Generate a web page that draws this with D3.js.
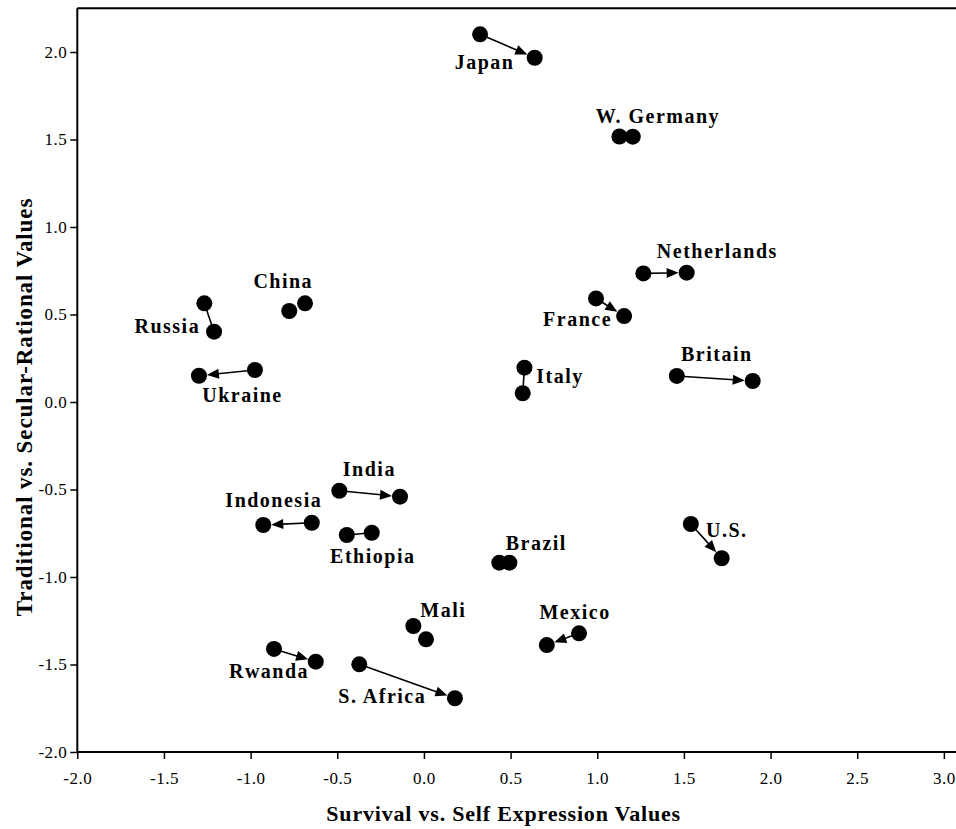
<!DOCTYPE html>
<html>
<head>
<meta charset="utf-8">
<script src="https://cdn.jsdelivr.net/npm/d3@7/dist/d3.min.js"></script>
<style>
  html, body { margin: 0; padding: 0; background: #fff; }
  svg { display: block; }
  text { font-family: "Liberation Serif", "Times New Roman", serif; fill: #000; }
</style>
</head>
<body>
<svg id="chart" width="956" height="829"></svg>
<script>
// Country positions on the two value dimensions, earlier wave -> later wave
const countries = ["Japan", "W. Germany", "Netherlands", "France", "Italy", "Britain",
  "China", "Russia", "Ukraine", "India", "Indonesia", "Ethiopia", "Mali", "Rwanda",
  "S. Africa", "Brazil", "U.S.", "Mexico"];
const startX = [0.324, 1.128, 1.266, 0.993, 0.580, 1.459, -0.777, -1.267, -0.975, -0.488,
  -0.647, -0.445, -0.061, -0.865, -0.373, 0.435, 1.540, 0.895];
const startY = [2.101, 1.517, 0.735, 0.592, 0.196, 0.149, 0.520, 0.564, 0.183, -0.507,
  -0.690, -0.760, -1.280, -1.411, -1.499, -0.918, -0.697, -1.322];
const endX = [0.639, 1.205, 1.516, 1.155, 0.570, 1.897, -0.686, -1.211, -1.298, -0.138,
  -0.927, -0.301, 0.012, -0.624, 0.179, 0.493, 1.718, 0.709];
const endY = [1.967, 1.516, 0.739, 0.491, 0.050, 0.120, 0.564, 0.402, 0.150, -0.541,
  -0.703, -0.747, -1.356, -1.484, -1.693, -0.918, -0.893, -1.389];
// whether the change is drawn as an arrow (true), a plain connector (false) or nothing (null)
const arrowKind = [true, null, true, true, false, true, null, false, true, true,
  true, false, null, true, true, null, true, true];

const xTicks = [-2.0, -1.5, -1.0, -0.5, 0.0, 0.5, 1.0, 1.5, 2.0, 2.5, 3.0];
const yTicks = [-2.0, -1.5, -1.0, -0.5, 0.0, 0.5, 1.0, 1.5, 2.0];

// label placement relative to the earlier point (pixels): [dx, dy]
const labelOffset = {
  "Japan": [4.5, 35], "W. Germany": [38.5, -14], "Netherlands": [74, -15],
  "France": [-18.5, 28], "Italy": [35.5, 15], "Britain": [40, -15],
  "China": [-6, -23], "Russia": [-37, 30], "Ukraine": [-12.5, 32],
  "India": [30, -15], "Indonesia": [-38, -16], "Ethiopia": [26, 28],
  "Mali": [30, -9], "Rwanda": [-5, 29], "S. Africa": [23, 39],
  "Brazil": [37, -13], "U.S.": [36, 13], "Mexico": [-4, -14]
};

const serif = '"Liberation Serif", "Times New Roman", serif';
const svg = d3.select("#chart");
const plotLeft = 77.3, plotRight = 956, plotTop = 8.25, plotBottom = 752;

const x = d3.scaleLinear().domain([-2, 3.07]).range([plotLeft, plotRight]);
const y = d3.scaleLinear().domain([-2, 2.25]).range([plotBottom, plotTop]);

// frame: top border
svg.append("line")
  .attr("x1", plotLeft).attr("x2", plotRight)
  .attr("y1", plotTop).attr("y2", plotTop)
  .attr("stroke", "#000").attr("stroke-width", 2);

// tick labels use a plain hyphen for negatives
const fmt = v => v.toFixed(1);

const xAxis = svg.append("g")
  .attr("transform", `translate(0,${plotBottom})`)
  .call(d3.axisBottom(x).tickValues(xTicks).tickFormat(fmt).tickSize(7).tickPadding(13).tickSizeOuter(0));
const yAxis = svg.append("g")
  .attr("transform", `translate(${plotLeft},0)`)
  .call(d3.axisLeft(y).tickValues(yTicks).tickFormat(fmt).tickSize(7).tickPadding(3).tickSizeOuter(0));

[xAxis, yAxis].forEach(g => {
  g.attr("font-family", serif).attr("font-size", 17);
  g.select(".domain").attr("stroke", "#000").attr("stroke-width", 2);
  g.selectAll(".tick line").attr("stroke", "#000").attr("stroke-width", 1.5);
  g.selectAll(".tick text")
    .attr("font-family", serif)
    .style("font-family", serif)
    .style("font-size", "17px")
    .style("letter-spacing", "0.5px")
    .attr("fill", "#000");
});
xAxis.select(".domain").attr("d", `M${plotLeft},0H${plotRight}`);
yAxis.select(".domain").attr("d", `M0,${plotTop}V${plotBottom}`);

// axis titles
svg.append("text")
  .attr("x", (plotLeft + plotRight) / 2 - 13)
  .attr("y", 821)
  .attr("text-anchor", "middle")
  .style("font-size", "22px")
  .style("font-weight", "bold")
  .style("letter-spacing", "0.8px")
  .text("Survival vs. Self Expression Values");

svg.append("text")
  .attr("transform", `translate(32,${407}) rotate(-90)`)
  .attr("text-anchor", "middle")
  .style("font-size", "23px")
  .style("font-weight", "bold")
  .style("letter-spacing", "0.9px")
  .text("Traditional vs. Secular-Rational Values");

const r = 8;
const rows = countries.map((c, i) => ({
  name: c,
  x1: x(startX[i]), y1: y(startY[i]),
  x2: x(endX[i]), y2: y(endY[i]),
  kind: arrowKind[i]
}));

// connectors and arrows
const headLen = 12, headHalf = 5;
rows.forEach(d => {
  if (d.kind === null) return;
  const dx = d.x2 - d.x1, dy = d.y2 - d.y1;
  const len = Math.hypot(dx, dy);
  const ux = dx / len, uy = dy / len;
  if (!d.kind) {
    svg.append("line")
      .attr("x1", d.x1).attr("y1", d.y1).attr("x2", d.x2).attr("y2", d.y2)
      .attr("stroke", "#000").attr("stroke-width", 1.6);
    return;
  }
  const tipX = d.x2 - ux * r, tipY = d.y2 - uy * r;
  const baseX = tipX - ux * headLen, baseY = tipY - uy * headLen;
  svg.append("line")
    .attr("x1", d.x1).attr("y1", d.y1).attr("x2", baseX + ux).attr("y2", baseY + uy)
    .attr("stroke", "#000").attr("stroke-width", 1.6);
  svg.append("path")
    .attr("d", `M${tipX},${tipY}L${baseX - uy * headHalf},${baseY + ux * headHalf}L${baseX + uy * headHalf},${baseY - ux * headHalf}Z`)
    .attr("fill", "#000");
});

// points
const pts = rows.flatMap(d => [[d.x1, d.y1], [d.x2, d.y2]]);
svg.append("g").selectAll("circle")
  .data(pts)
  .join("circle")
  .attr("cx", p => p[0]).attr("cy", p => p[1])
  .attr("r", r).attr("fill", "#000");

// country labels
svg.append("g").selectAll("text")
  .data(rows)
  .join("text")
  .attr("x", d => d.x1 + labelOffset[d.name][0])
  .attr("y", d => d.y1 + labelOffset[d.name][1])
  .attr("text-anchor", "middle")
  .style("font-size", "20px")
  .style("font-weight", "bold")
  .style("letter-spacing", "1.5px")
  .text(d => d.name);
</script>
</body>
</html>
